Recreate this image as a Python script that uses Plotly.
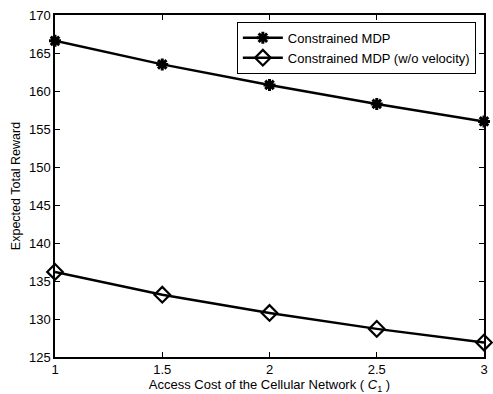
import plotly.graph_objects as go

x_cost = [1, 1.5, 2, 2.5, 3]
reward_cmdp = [166.6, 163.5, 160.8, 158.3, 156.0]
reward_cmdp_novel = [136.2, 133.2, 130.8, 128.7, 126.9]
series_names = ["Constrained MDP", "Constrained MDP (w/o velocity)"]
x_ticks = [1, 1.5, 2, 2.5, 3]
x_tick_labels = ["1", "1.5", "2", "2.5", "3"]
y_ticks = [125, 130, 135, 140, 145, 150, 155, 160, 165, 170]

fig = go.Figure()
fig.add_trace(go.Scatter(
    x=x_cost, y=reward_cmdp, name=series_names[0], mode="lines+markers",
    line=dict(color="black", width=2.5), cliponaxis=False,
    marker=dict(symbol="asterisk-open", size=10, color="black",
                line=dict(color="black", width=3)),
))
fig.add_trace(go.Scatter(
    x=x_cost, y=reward_cmdp_novel, name=series_names[1], mode="lines+markers",
    line=dict(color="black", width=2.5), cliponaxis=False,
    marker=dict(symbol="diamond-open", size=12, color="black",
                line=dict(color="black", width=2.2)),
))

axis_common = dict(
    showgrid=False, zeroline=False, showline=True, linecolor="black",
    linewidth=1.5, mirror="ticks", ticks="inside", ticklen=5,
    tickcolor="black", tickwidth=1,
    tickfont=dict(family="Liberation Sans, Arial", size=13, color="black"),
)

fig.update_layout(
    width=493, height=394,
    margin=dict(l=55, r=5, t=15, b=37),
    paper_bgcolor="white", plot_bgcolor="white",
    font=dict(family="Liberation Sans, Arial", size=12, color="black"),
    xaxis=dict(range=[1, 3], tickvals=x_ticks, ticktext=x_tick_labels,
               title=dict(text="Access Cost of the Cellular Network ( <i>C</i><sub>1</sub> )",
                          font=dict(size=13), standoff=1),
               **axis_common),
    yaxis=dict(range=[125, 170], tickvals=y_ticks,
               title=dict(text="Expected Total Reward", font=dict(size=12.5), standoff=6),
               **axis_common),
    legend=dict(x=0.981, y=0.98, xanchor="right", yanchor="top",
                bgcolor="white", bordercolor="black", borderwidth=1,
                font=dict(size=13), tracegroupgap=0, itemwidth=40),
    showlegend=True,
)

fig.write_html("out.html", config={"displayModeBar": False},
               post_script="document.body.style.margin='0';")
